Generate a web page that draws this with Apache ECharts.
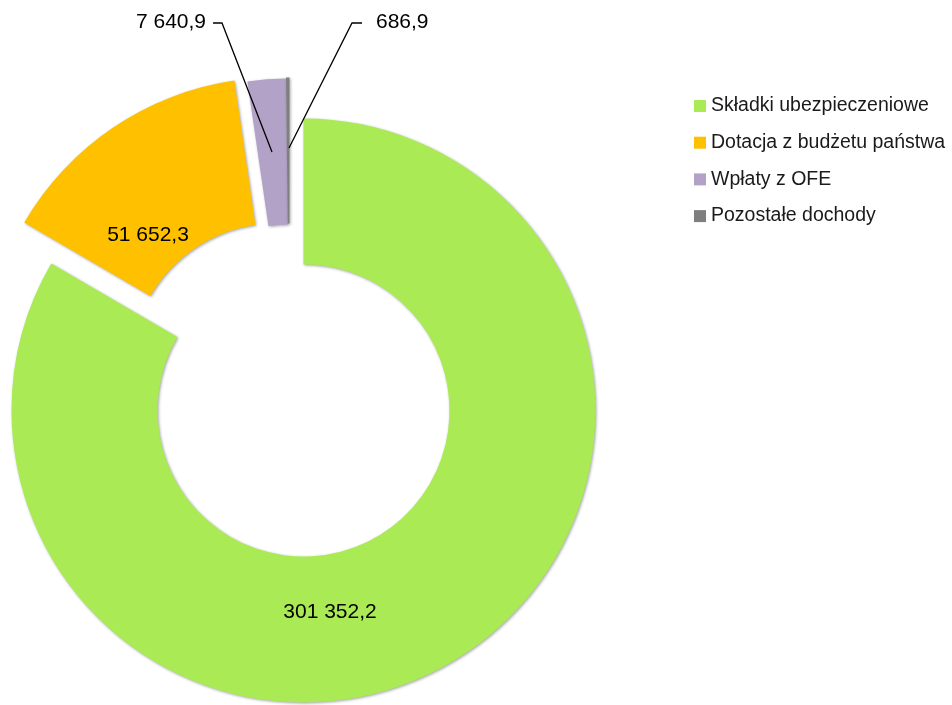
<!DOCTYPE html>
<html>
<head>
<meta charset="utf-8">
<script src="https://cdn.jsdelivr.net/npm/echarts@6/dist/echarts.min.js"></script>
<style>
  html, body { margin: 0; padding: 0; background: #fff; }
  #chart { width: 952px; height: 705px; }
</style>
</head>
<body>
<div id="chart"></div>
<script>
// Chart data
const categories = ['Składki ubezpieczeniowe', 'Dotacja z budżetu państwa', 'Wpłaty z OFE', 'Pozostałe dochody'];
const values = [301352.2, 51652.3, 7640.9, 686.9];
const colors = ['#AAEA55', '#FFC000', '#B3A2C7', '#7F7F7F'];

// Layout of the donut (pixels)
const CX = 303.5, CY = 410.5;
const R_IN = 146, R_OUT = 292;
// explode shift for each slice
const shifts = [[0, 0], [-27, -41], [-14, -40], [-14, -41]];

// Format like "301 352,2"
function fmt(v) {
  const parts = v.toFixed(1).split('.');
  const intPart = parts[0].replace(/\B(?=(\d{3})+(?!\d))/g, ' ');
  return intPart + ',' + parts[1];
}

// Label placement relative to the donut centre
const labelSpots = [
  { x: CX + 26.5, y: CY + 201.5, align: 'center' },
  { x: CX - 155.5, y: CY - 175.5, align: 'center' },
  { x: CX - 97.5, y: CY - 388.5, align: 'right',
    line: [[CX - 31.5, CY - 258.5], [CX - 81.5, CY - 387.5], [CX - 90.5, CY - 387.5]] },
  { x: CX + 72.5, y: CY - 388.5, align: 'left',
    line: [[CX - 14.5, CY - 262.5], [CX + 48.5, CY - 387.5], [CX + 58.5, CY - 387.5]] }
];

const FONT = 'Liberation Sans';

const labelText = {
  formatter: p => fmt(p.value),
  fontFamily: FONT,
  fontSize: 21,
  color: '#000'
};

// one ring per slice, so each slice can be pushed out on its own
function sliceSeries(k) {
  const spot = labelSpots[k];
  return {
    type: 'pie',
    name: categories[k],
    center: [CX + shifts[k][0], CY + shifts[k][1]],
    radius: [R_IN, R_OUT],
    startAngle: 90,
    clockwise: true,
    avoidLabelOverlap: false,
    animation: false,
    silent: true,
    z: 2,
    data: categories.map((name, i) => ({
      name: name,
      value: values[i],
      itemStyle: i === k ? {
        color: colors[i],
        shadowColor: 'rgba(0,0,0,0.35)',
        shadowBlur: 3,
        shadowOffsetX: 1,
        shadowOffsetY: 1
      } : { color: 'rgba(0,0,0,0)' },
      label: { show: i === k && !spot.line }
    })),
    label: Object.assign({ position: 'inside' }, labelText),
    labelLine: { show: false },
    labelLayout: { x: spot.x, y: spot.y, align: spot.align, verticalAlign: 'middle' }
  };
}

// transparent ring on top that only carries the outside labels + leader lines
const calloutSeries = {
  type: 'pie',
  name: 'callouts',
  center: [CX, CY],
  radius: [R_IN, R_OUT],
  startAngle: 90,
  clockwise: true,
  avoidLabelOverlap: false,
  animation: false,
  silent: true,
  z: 5,
  data: categories.map((name, i) => ({
    name: name,
    value: values[i],
    itemStyle: { color: 'rgba(0,0,0,0)' },
    label: { show: !!labelSpots[i].line },
    labelLine: { show: !!labelSpots[i].line }
  })),
  label: Object.assign({ position: 'outside' }, labelText),
  labelLine: { show: true, lineStyle: { color: '#000', width: 1.3 } },
  labelLayout: function (p) {
    const spot = labelSpots[p.dataIndex];
    const o = { x: spot.x, y: spot.y, align: spot.align, verticalAlign: 'middle' };
    if (spot.line) o.labelLinePoints = spot.line;
    return o;
  }
};

const chart = echarts.init(document.getElementById('chart'), null, { renderer: 'canvas' });

chart.setOption({
  backgroundColor: '#fff',
  legend: {
    orient: 'vertical',
    left: 694,
    top: 96,
    padding: 0,
    itemWidth: 12,
    itemHeight: 12,
    itemGap: 16.7,
    icon: 'rect',
    selectedMode: false,
    textStyle: { fontFamily: FONT, fontSize: 19.5, color: '#1a1a1a', lineHeight: 20 },
    data: categories.map((c, i) => ({ name: c, itemStyle: { color: colors[i] } }))
  },
  series: categories.map((c, k) => sliceSeries(k)).concat([calloutSeries])
});
</script>
</body>
</html>
